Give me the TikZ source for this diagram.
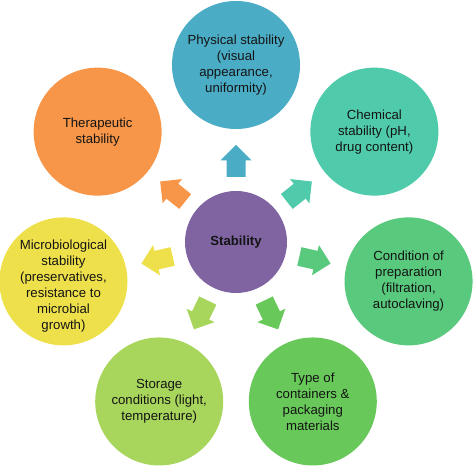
\documentclass[tikz,border=0pt]{standalone}
\usepackage{fontspec}
\setmainfont{Liberation Sans}
\definecolor{cphys}{HTML}{4BACC6}
\definecolor{cchem}{HTML}{4FCBAB}
\definecolor{ccond}{HTML}{58C97D}
\definecolor{ctype}{HTML}{68C95A}
\definecolor{cstor}{HTML}{A8D65C}
\definecolor{cmicro}{HTML}{EEE04A}
\definecolor{cther}{HTML}{F79648}
\definecolor{ccent}{HTML}{8064A2}
\definecolor{ctext}{HTML}{141414}
\tikzset{
  bubble/.style={circle, inner sep=0pt, minimum size=128pt, align=center,
    text=ctext, font=\fontsize{13.2}{16}\selectfont},
  hub/.style={circle, inner sep=0pt, minimum size=102pt, fill=ccent, align=center,
    text=ctext, font=\fontsize{13.2}{16}\selectfont\bfseries},
}
\newcommand{\blockarrow}[2]{%
  \begin{scope}[rotate=#1]
    \fill[#2] (65,-9.5) -- (81.5,-9.5) -- (81.5,-15.5) -- (97,0)
      -- (81.5,15.5) -- (81.5,9.5) -- (65,9.5) -- cycle;
  \end{scope}}
\begin{document}
\begin{tikzpicture}[x=1pt,y=1pt]
\useasboundingbox (0,0) rectangle (473,465);
\begin{scope}[shift={(236,223)}]
  \node[hub] (hub) at (0,0) {Stability};
  \node[bubble, fill=cphys] (phys) at (90:177) {Physical stability\\(visual\\appearance,\\uniformity)};
  \node[bubble, fill=cchem] (chem) at (38.571:177) {Chemical\\stability (pH,\\drug content)};
  \node[bubble, fill=ccond] (cond) at (-12.857:177) {Condition of\\preparation\\(filtration,\\autoclaving)};
  \node[bubble, fill=ctype] (type) at (-64.286:177) {Type of\\containers \&\\packaging\\materials};
  \node[bubble, fill=cstor] (stor) at (-115.714:177) {Storage\\conditions (light,\\temperature)};
  \node[bubble, fill=cmicro] (micro) at (-167.143:177) {};
  \node[align=center, text=ctext, font=\fontsize{13.2}{16}\selectfont] (microtext) at ([yshift=-5pt]micro.center) {Microbiological\\stability\\(preservatives,\\resistance to\\microbial\\growth)};
  \node[bubble, fill=cther] (ther) at (141.429:177) {Therapeutic\\stability};
  \blockarrow{90}{cphys}
  \blockarrow{38.571}{cchem}
  \blockarrow{-12.857}{ccond}
  \blockarrow{-64.286}{ctype}
  \blockarrow{-115.714}{cstor}
  \blockarrow{-167.143}{cmicro}
  \blockarrow{141.429}{cther}
\end{scope}
\end{tikzpicture}
\end{document}
